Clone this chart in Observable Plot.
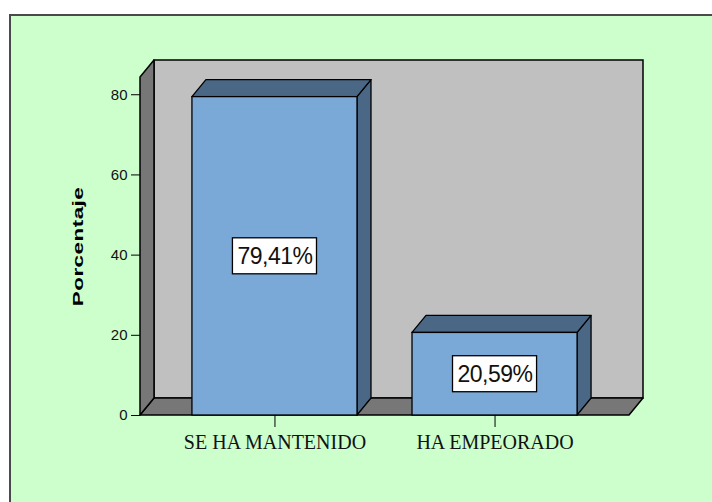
<!DOCTYPE html>
<html>
<head>
<meta charset="utf-8">
<script src="https://cdn.jsdelivr.net/npm/d3@7"></script>
<script src="https://cdn.jsdelivr.net/npm/@observablehq/plot@0.6"></script>
<style>
  html, body { margin: 0; padding: 0; background: #ffffff; width: 712px; height: 502px; overflow: hidden; }
  #frame { position: absolute; left: 9px; top: 14px; right: -4px; bottom: -4px;
           border-left: 2px solid #4a4a4a; border-top: 2px solid #4a4a4a; background: #ccffcc; }
  #chart { position: absolute; left: 0; top: 0; }
</style>
</head>
<body>
<div id="frame"></div>
<div id="chart"></div>
<script>
// ---- data ----
const categories = ["SE HA MANTENIDO", "HA EMPEORADO"];
const values = [79.41, 20.59];
const yTicks = [0, 20, 40, 60, 80];
const yLabel = "Porcentaje";

// ---- layout constants (data units) ----
const XMIN = -0.611, XMAX = 1.611;   // horizontal extent of the floor/front
const YMAX = 84.3;                   // top of the side wall (front)
const HALF = 0.375;                  // half bar width
const DX = 0.0636, DY = 4.24;        // 3D depth offsets
const BOX_W = 0.191, BOX_H = 4.49;   // half sizes of the label boxes

const fmt = v => v.toFixed(2).replace(".", ",") + "%";
const bars = categories.map((c, i) => ({cat: c, i, v: values[i], x1: i - HALF, x2: i + HALF}));

const backWall = [{x1: XMIN + DX, x2: XMAX + DX, y1: DY, y2: YMAX + DY}];
const floor = [{y: 0, x1: XMIN, x2: XMAX}, {y: DY, x1: XMIN + DX, x2: XMAX + DX}];
const leftWall = [{x: XMIN, y1: 0, y2: YMAX}, {x: XMIN + DX, y1: DY, y2: YMAX + DY}];
const sides = bars.flatMap(b => [
  {id: b.i, x: b.x2, y1: 0, y2: b.v},
  {id: b.i, x: b.x2 + DX, y1: DY, y2: b.v + DY}
]);
const tops = bars.flatMap(b => [
  {id: b.i, y: b.v, x1: b.x1, x2: b.x2},
  {id: b.i, y: b.v + DY, x1: b.x1 + DX, x2: b.x2 + DX}
]);

const FRONT = "#7ba9d7", DARK = "#4a6886", WALL = "#c0c0c0", SIDE = "#777777";

const plot = Plot.plot({
  width: 712,
  height: 502,
  marginLeft: 140,
  marginRight: 83,
  marginTop: 77,
  marginBottom: 87,
  style: {background: "transparent", color: "black", fontFamily: "'Liberation Sans', Arial, sans-serif"},
  x: {type: "linear", domain: [XMIN, XMAX], ticks: [0, 1], tickFormat: () => "", tickSize: 12, label: null},
  y: {domain: [0, YMAX], ticks: yTicks, tickFormat: () => "", tickSize: 9, label: null},
  marks: [
    Plot.rect(backWall, {x1: "x1", x2: "x2", y1: "y1", y2: "y2", fill: WALL, stroke: "black", strokeWidth: 1.5}),
    Plot.areaX(floor, {y: "y", x1: "x1", x2: "x2", fill: SIDE, stroke: "black", strokeWidth: 1.5}),
    Plot.areaY(leftWall, {x: "x", y1: "y1", y2: "y2", fill: SIDE, stroke: "black", strokeWidth: 1.5}),
    Plot.areaY(sides, {x: "x", y1: "y1", y2: "y2", z: "id", fill: DARK, stroke: "black", strokeWidth: 1.3}),
    Plot.areaX(tops, {y: "y", x1: "x1", x2: "x2", z: "id", fill: DARK, stroke: "black", strokeWidth: 1.3}),
    Plot.rect(bars, {x1: "x1", x2: "x2", y1: 0, y2: "v", fill: FRONT, stroke: "black", strokeWidth: 1.3}),
    Plot.rect(bars, {x1: b => b.i - BOX_W, x2: b => b.i + BOX_W, y1: b => b.v / 2 - BOX_H, y2: b => b.v / 2 + BOX_H,
                     fill: "white", stroke: "black", strokeWidth: 1.3}),
    Plot.text(bars, {x: "i", y: b => b.v / 2, text: b => fmt(b.v), fontSize: 23,
                     fontFamily: "'Liberation Sans', Arial, sans-serif", fill: "#111"}),
    Plot.text(bars, {x: "i", y: 0, text: "cat", lineAnchor: "top", dy: 19, fontSize: 20,
                     fontFamily: "'Liberation Serif', 'Times New Roman', serif", fill: "#111"}),
    Plot.text(yTicks, {y: d => d, text: d => String(d), frameAnchor: "left", textAnchor: "end", dx: -13,
                     fontSize: 15, fontFamily: "'Liberation Sans', Arial, sans-serif", fill: "#111"}),
    Plot.text([yLabel], {frameAnchor: "left", textAnchor: "middle", dx: -62, rotate: -90, text: d => d, fontSize: 15,
                     fontWeight: "bold", fontFamily: "'Liberation Sans', Arial, sans-serif", fill: "black"})
  ]
});
// typographic adjustments only
const svg = d3.select(plot);
svg.selectAll("text").filter(function() { return this.textContent === yLabel; })
  .each(function() {
    const t = this.getAttribute("transform") || "";
    this.setAttribute("transform", t + " scale(1.5,1)");
  })
  .style("letter-spacing", "0.3px");
svg.selectAll("text").filter(function() { return /%$/.test(this.textContent); })
  .style("letter-spacing", "-0.5px");
document.getElementById("chart").appendChild(plot);
</script>
</body>
</html>
